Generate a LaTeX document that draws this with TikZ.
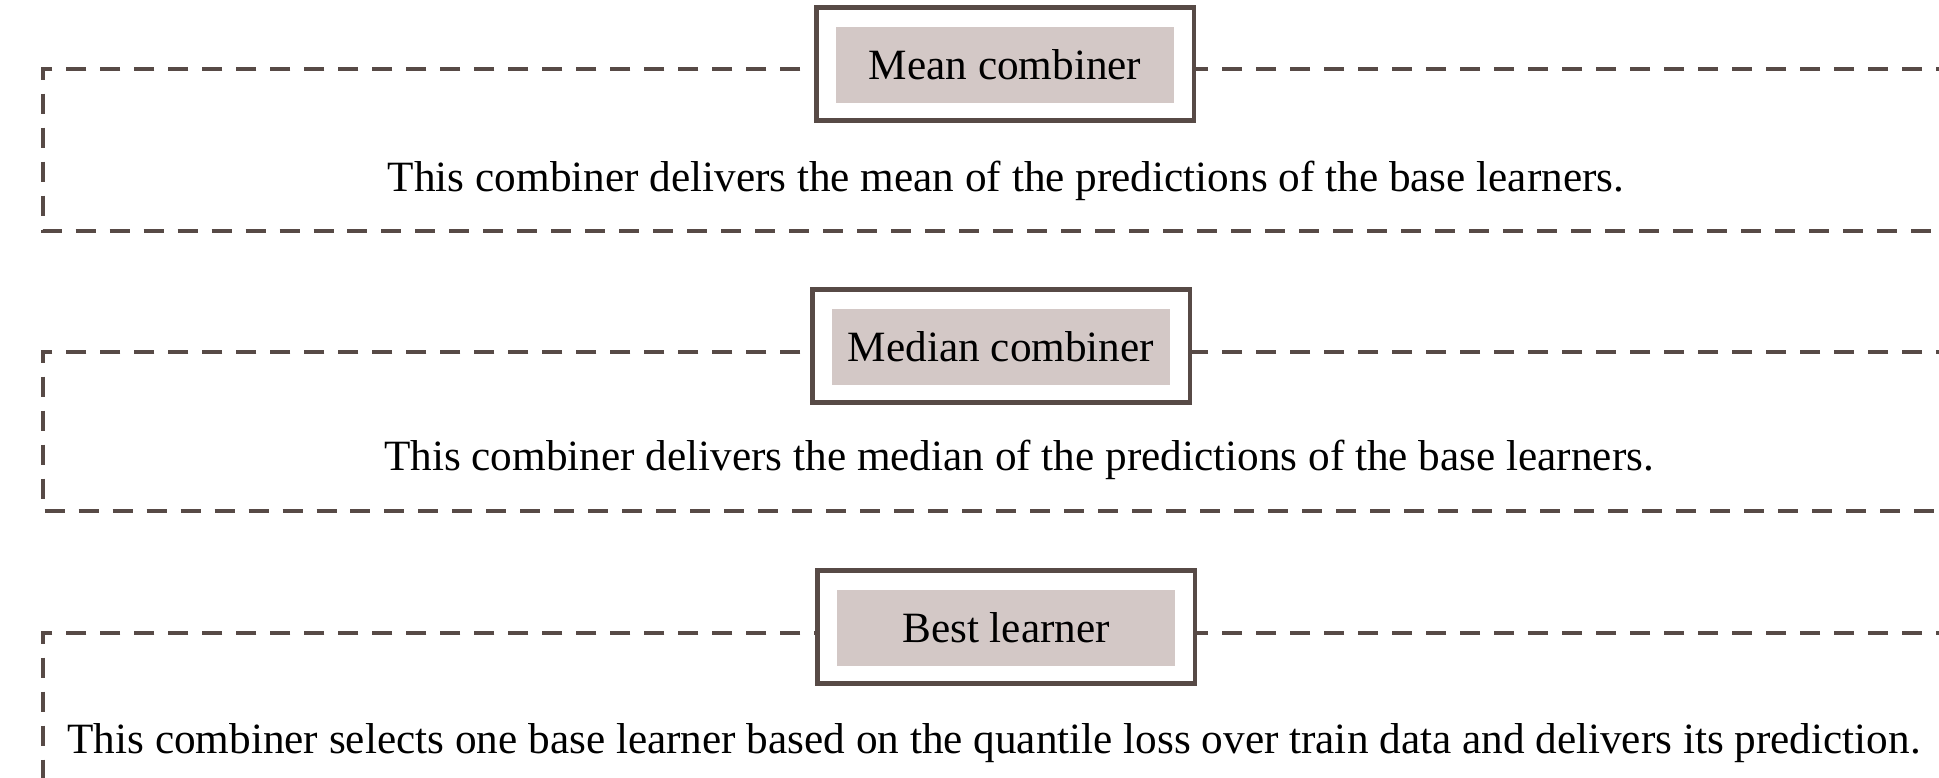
\documentclass[tikz,border=0pt]{standalone}
\usepackage{fontspec}
\setmainfont{Liberation Serif}
\usepackage{tikz}
\definecolor{framecol}{HTML}{574A46}
\definecolor{titlefill}{HTML}{D3C8C6}
\tikzset{
    every node/.style={inner sep=0pt, font=\fontsize{24.6}{30}\selectfont}
}
\tikzset{
    frame/.style={draw=framecol, line width=2.8pt, fill=white,
        minimum width=7.56cm, minimum height=2.27cm},
    title/.style={fill=titlefill, minimum width=6.78cm, minimum height=1.53cm},
    group/.style={draw=framecol, line width=2.4pt, dash pattern=on 0.4cm off 0.28cm}
}

\begin{document}
\begin{tikzpicture}[x=0.02cm, y=-0.02cm]
  \useasboundingbox (0,0) rectangle (1939,777);
  \clip (0,0) rectangle (1939,777);

  % dashed groups, open to the right
  \draw[group] (1990,69) -- (43,69) -- (43,231) -- (1990,231);
  \draw[group] (1990,352) -- (43,352) -- (43,511) -- (1990,511);
  \draw[group] (1990,633) -- (43,633) -- (43,800);

  \node (f1) [frame] at (1005,64) {};
  \node (t1) [title] at (1005,65) {Mean combiner};
  \node (d1) at (1006,181) {This combiner delivers the mean of the predictions of the base learners.};

  \node (f2) [frame] at (1001,346) {};
  \node (t2) [title] at (1001,347) {Median combiner};
  \node (d2) at (1019,460) {This combiner delivers the median of the predictions of the base learners.};

  \node (f3) [frame] at (1006,627) {};
  \node (t3) [title] at (1006,628) {Best learner};
  \node (d3) at (994,743) {This combiner selects one base learner based on the quantile loss over train data and delivers its prediction.};
\end{tikzpicture}
\end{document}
